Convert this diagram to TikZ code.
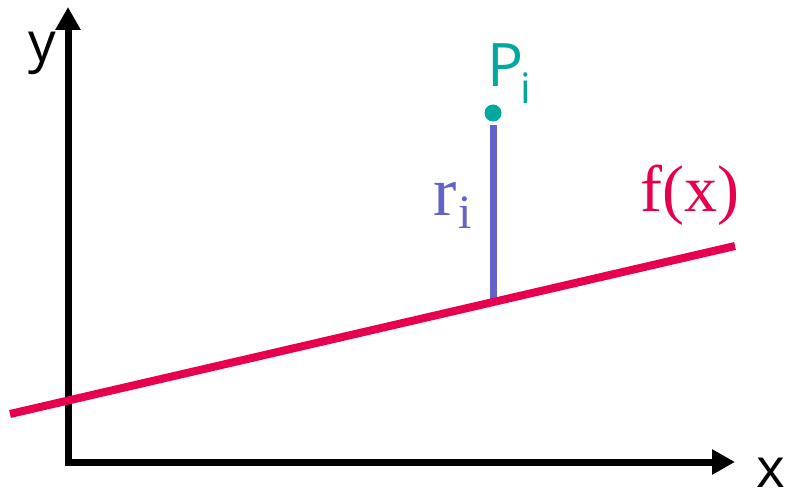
\documentclass[tikz,border=0pt]{standalone}
\usepackage{fontspec}
\setmainfont{Liberation Serif}
\newfontfamily\axfont{Open Sans}
\usetikzlibrary{arrows.meta}
\definecolor{fred}{HTML}{E6004F}
\definecolor{rblue}{HTML}{6262C8}
\definecolor{pteal}{HTML}{00A89E}
\tikzset{
  axis/.style={line width=7pt, -{Triangle[length=23pt,width=24pt]}},
  lbl/.style={inner sep=0pt, anchor=base west},
}
\begin{document}
\begin{tikzpicture}[x=1pt,y=-1pt]
\useasboundingbox (0,0) rectangle (790,494);
% axes
\coordinate (O) at (68,462);
\coordinate (ytip) at (68,7);
\coordinate (xtip) at (735,462);
\draw[axis] ([yshift=3.5pt]O) -- (ytip);
\draw[axis] ([xshift=-3.5pt]O) -- (xtip);
\node[lbl] (ylab) at (28,62) {\fontsize{55}{55}\axfont y};
\node[lbl] (xlab) at (756,487) {\fontsize{55}{55}\axfont x};
% regression line
\coordinate (f0) at (10,414);
\coordinate (f1) at (735,246);
\coordinate (foot) at (493,302);
% residual
\node[circle, fill=pteal, inner sep=0pt, minimum size=17pt] (P) at (493,113) {};
\coordinate (rtop) at (493,125);
\draw[rblue, line width=7pt] (rtop) -- (foot);
\draw[fred, line width=8pt] (f0) -- (f1);
% labels
\node[lbl, text=pteal] (Plab) at (487,87) {\fontsize{60}{60}\axfont P};
\node[lbl, text=pteal] (Psub) at (520,104) {\fontsize{42}{42}\axfont i};
\node[lbl, text=rblue] (rlab) at (433,216) {\fontsize{70}{70}\selectfont r};
\node[lbl, text=rblue] (rsub) at (458,229) {\fontsize{48}{48}\selectfont i};
\node[lbl, text=fred] (flab) at (640,212) {\fontsize{66}{66}\selectfont f(x)};
\end{tikzpicture}
\end{document}
